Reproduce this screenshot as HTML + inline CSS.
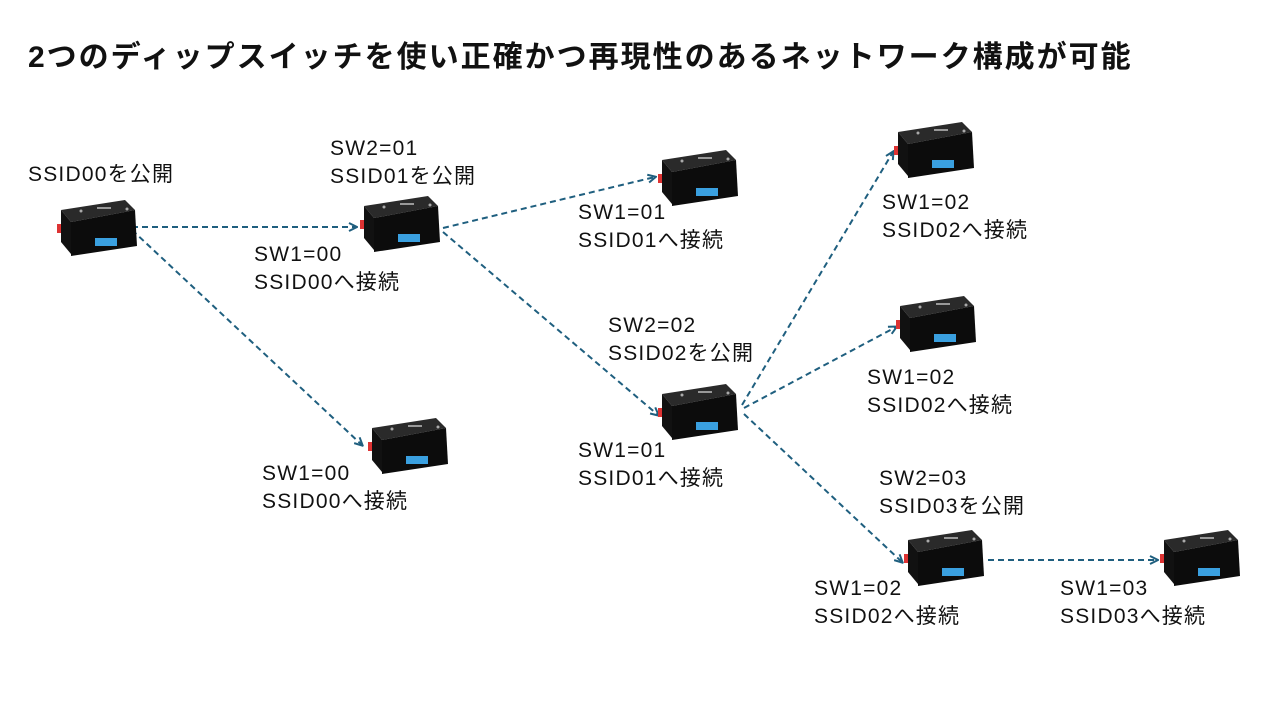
<!DOCTYPE html>
<html><head><meta charset="utf-8"><style>
body{margin:0;width:1280px;height:720px;background:#fff;overflow:hidden;position:relative;font-family:"Liberation Sans","Noto Sans CJK JP",sans-serif;}
.t{position:absolute;font-size:21px;letter-spacing:1.2px;line-height:28px;color:#111;white-space:nowrap;}
h1{position:absolute;left:28px;top:32px;margin:0;font-size:30px;letter-spacing:2px;font-weight:bold;color:#111;white-space:nowrap;}
svg{position:absolute;left:0;top:0;}
</style></head><body>
<h1>2つのディップスイッチを使い正確かつ再現性のあるネットワーク構成が可能</h1>
<svg width="1280" height="720">
<defs>
<marker id="a" markerWidth="10" markerHeight="10" refX="8" refY="5" orient="auto" markerUnits="userSpaceOnUse">
<path d="M1,1 L9,5 L1,9" fill="none" stroke="#1f5f7f" stroke-width="2"/></marker>
<g id="dev">
<polygon points="4,10 68,0 78,10 14,22" fill="#2a2a2a"/>
<polygon points="4,10 14,22 14,54 4,42" fill="#111"/>
<polygon points="14,22 78,10 80,46 14,56" fill="#0c0c0c"/>
<rect x="0" y="24" width="4" height="9" fill="#d33"/>
<rect x="38" y="38" width="22" height="8" fill="#3aa0e0"/>
<circle cx="24" cy="11" r="1.5" fill="#aaa"/><circle cx="70" cy="9" r="1.5" fill="#aaa"/>
<rect x="40" y="7" width="14" height="2" fill="#999"/>
</g>
</defs>
<g stroke="#1f5f7f" stroke-width="2" stroke-dasharray="6,4" fill="none" marker-end="url(#a)">
<line x1="132" y1="227" x2="356" y2="227"/>
<line x1="132" y1="230" x2="362" y2="445"/>
<line x1="443" y1="228" x2="655" y2="177"/>
<line x1="443" y1="232" x2="658" y2="415"/>
<line x1="742" y1="405" x2="893" y2="152"/>
<line x1="744" y1="408" x2="896" y2="327"/>
<line x1="744" y1="414" x2="902" y2="562"/>
<line x1="988" y1="560" x2="1157" y2="560"/>
</g>
<use href="#dev" x="57" y="200"/>
<use href="#dev" x="360" y="196"/>
<use href="#dev" x="658" y="150"/>
<use href="#dev" x="894" y="122"/>
<use href="#dev" x="368" y="418"/>
<use href="#dev" x="896" y="296"/>
<use href="#dev" x="658" y="384"/>
<use href="#dev" x="904" y="530"/>
<use href="#dev" x="1160" y="530"/>
</svg>
<div class="t" style="left:28px;top:161px">SSID00を公開</div>
<div class="t" style="left:330px;top:135px">SW2=01<br>SSID01を公開</div>
<div class="t" style="left:254px;top:241px">SW1=00<br>SSID00へ接続</div>
<div class="t" style="left:578px;top:199px">SW1=01<br>SSID01へ接続</div>
<div class="t" style="left:882px;top:189px">SW1=02<br>SSID02へ接続</div>
<div class="t" style="left:608px;top:312px">SW2=02<br>SSID02を公開</div>
<div class="t" style="left:867px;top:364px">SW1=02<br>SSID02へ接続</div>
<div class="t" style="left:262px;top:460px">SW1=00<br>SSID00へ接続</div>
<div class="t" style="left:578px;top:437px">SW1=01<br>SSID01へ接続</div>
<div class="t" style="left:879px;top:465px">SW2=03<br>SSID03を公開</div>
<div class="t" style="left:814px;top:575px">SW1=02<br>SSID02へ接続</div>
<div class="t" style="left:1060px;top:575px">SW1=03<br>SSID03へ接続</div>
</body></html>
